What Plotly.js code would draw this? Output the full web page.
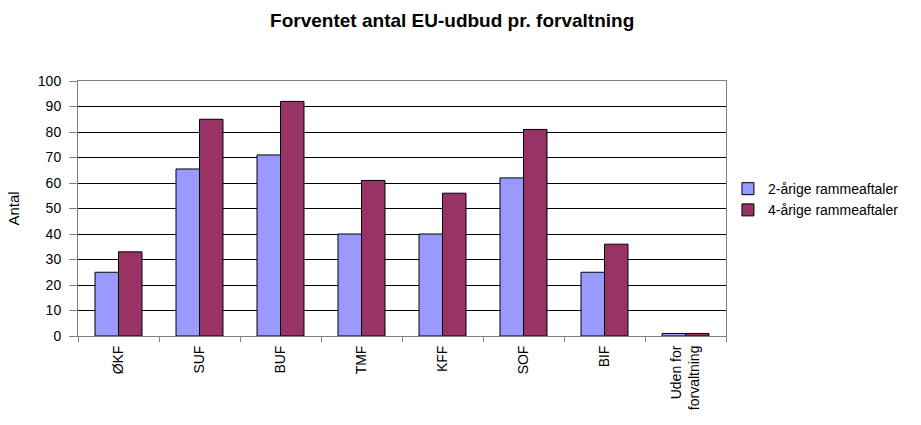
<!DOCTYPE html>
<html>
<head>
<meta charset="utf-8">
<script src="https://cdn.plot.ly/plotly-3.0.1.min.js"></script>
<style>html,body{margin:0;padding:0;background:#fff;}#chart{width:921px;height:425px;}</style>
</head>
<body>
<div id="chart"></div>
<script>
const categories = ["ØKF", "SUF", "BUF", "TMF", "KFF", "SOF", "BIF", "Uden for<br>forvaltning"];
const series2 = [25, 65.5, 71, 40, 40, 62, 25, 1];
const series4 = [33, 85, 92, 61, 56, 81, 36, 1];
const seriesNames = ["2-årige rammeaftaler", "4-årige rammeaftaler"];
const yTicks = [0, 10, 20, 30, 40, 50, 60, 70, 80, 90, 100];

const traces = [
  {type: "bar", x: categories, y: series2, name: seriesNames[0],
   marker: {color: "#9999FF", line: {color: "#000000", width: 1}}},
  {type: "bar", x: categories, y: series4, name: seriesNames[1],
   marker: {color: "#993366", line: {color: "#000000", width: 1}}}
];

const layout = {
  width: 921, height: 425,
  margin: {l: 78, r: 195, t: 81, b: 89},
  paper_bgcolor: "#ffffff", plot_bgcolor: "#ffffff",
  font: {family: "Liberation Sans, Arial, sans-serif", size: 14, color: "#000"},
  title: {text: "<b>Forventet antal EU-udbud pr. forvaltning</b>", font: {size: 19}, x: 0.491, xref: "container", xanchor: "center", y: 0.953, yref: "container", yanchor: "middle"},
  barmode: "group", bargap: 0.42, bargroupgap: 0,
  showlegend: true,
  legend: {x: 1.003, xref: "paper", xanchor: "left", y: 0.535, yanchor: "middle", font: {size: 14}, tracegroupgap: 0, itemwidth: 30},
  xaxis: {type: "category", tickangle: -90, ticks: "outside", tickson: "boundaries", ticklen: 5, tickcolor: "#808080",
          showline: true, linecolor: "#808080", mirror: true, showgrid: false, tickfont: {size: 14}, ticklabelstandoff: 3},
  yaxis: {range: [0, 100], tickvals: yTicks, ticks: "outside", ticklen: 8, tickcolor: "#808080",
          showline: true, linecolor: "#808080", mirror: true, showgrid: true, gridcolor: "#000000", gridwidth: 1,
          zeroline: false, tickfont: {size: 14}, ticklabelstandoff: 5,
          title: {text: "Antal", font: {size: 15}, standoff: 14}}
};

Plotly.newPlot("chart", traces, layout, {displayModeBar: false, staticPlot: true});
</script>
</body>
</html>
